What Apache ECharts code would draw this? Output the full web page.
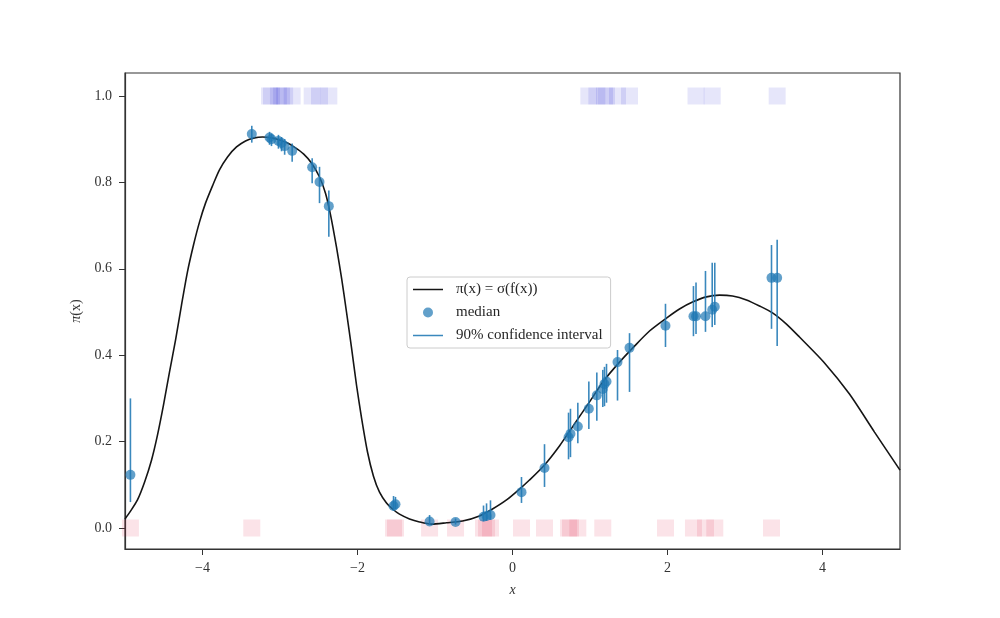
<!DOCTYPE html>
<html>
<head>
<meta charset="utf-8">
<script src="https://cdn.jsdelivr.net/npm/echarts@6/dist/echarts.min.js"></script>
<style>html,body{margin:0;padding:0;background:#fff}#c{width:1000px;height:618px}</style>
</head>
<body>
<div id="c"></div>
<script>
// ---- data ----
const xs = [-4.93, -3.364, -3.135, -3.11, -3.02, -2.98, -2.94, -2.843, -2.585, -2.49, -2.37,
  -1.535, -1.51, -1.07, -0.735, -0.374, -0.335, -0.284, 0.116, 0.413, 0.723, 0.748, 0.843,
  0.985, 1.088, 1.165, 1.187, 1.213, 1.355, 1.51, 1.974, 2.335, 2.368, 2.49, 2.577, 2.61, 3.342, 3.415];
const median = [0.123, 0.912, 0.904, 0.900, 0.896, 0.891, 0.884, 0.873, 0.835, 0.801, 0.745,
  0.051, 0.055, 0.015, 0.014, 0.026, 0.028, 0.030, 0.083, 0.139, 0.210, 0.218, 0.235,
  0.276, 0.307, 0.322, 0.333, 0.339, 0.384, 0.417, 0.468, 0.490, 0.490, 0.490, 0.505, 0.512, 0.579, 0.579];
const ciLow = [0.06, 0.892, 0.887, 0.884, 0.878, 0.872, 0.864, 0.848, 0.798, 0.752, 0.674,
  0.040, 0.043, 0.007, 0.008, 0.016, 0.017, 0.019, 0.058, 0.095, 0.159, 0.164, 0.196,
  0.229, 0.248, 0.280, 0.282, 0.290, 0.295, 0.315, 0.419, 0.444, 0.449, 0.454, 0.465, 0.470, 0.461, 0.421];
const ciHigh = [0.30, 0.931, 0.917, 0.913, 0.910, 0.905, 0.900, 0.890, 0.856, 0.836, 0.781,
  0.074, 0.072, 0.030, 0.022, 0.052, 0.057, 0.064, 0.118, 0.194, 0.267, 0.276, 0.290,
  0.339, 0.360, 0.366, 0.373, 0.380, 0.412, 0.451, 0.519, 0.560, 0.568, 0.595, 0.614, 0.614, 0.655, 0.667];
const labels = [0, 0, 1, 1, 1, 1, 1, 1, 1, 1, 1,
  0, 0, 0, 0, 0, 0, 0, 0, 0, 0, 0, 0,
  1, 1, 0, 1, 1, 1, 1, 0, 0, 1, 0, 1, 0, 0, 1];
const curveX = [-5.0, -4.929, -4.839, -4.748, -4.658, -4.581, -4.503, -4.426, -4.348, -4.271, -4.194, -4.116,
  -4.039, -3.961, -3.871, -3.781, -3.677, -3.561, -3.445, -3.329, -3.226, -3.110, -3.006, -2.903, -2.800,
  -2.697, -2.594, -2.490, -2.413, -2.348, -2.271, -2.206, -2.142, -2.077, -2.013, -1.948, -1.871, -1.794,
  -1.716, -1.626, -1.548, -1.458, -1.329, -1.2, -1.045, -0.852, -0.645, -0.426, -0.258, -0.077, 0.090,
  0.219, 0.413, 0.606, 0.8, 0.994, 1.187, 1.381, 1.574, 1.768, 1.987, 2.155, 2.323, 2.503, 2.671, 2.839,
  3.019, 3.187, 3.355, 3.535, 3.703, 4.026, 4.348, 4.671, 5.0];
const curveY = [0.021, 0.039, 0.065, 0.106, 0.157, 0.215, 0.285, 0.361, 0.435, 0.516, 0.593, 0.655,
  0.708, 0.752, 0.792, 0.829, 0.859, 0.882, 0.896, 0.903, 0.905, 0.903, 0.898, 0.891, 0.880,
  0.866, 0.845, 0.8125, 0.775, 0.725, 0.650, 0.579, 0.500, 0.417, 0.331, 0.255, 0.176, 0.120,
  0.083, 0.058, 0.044, 0.032, 0.021, 0.014, 0.009, 0.012, 0.016, 0.028, 0.044, 0.065, 0.090,
  0.111, 0.146, 0.190, 0.241, 0.292, 0.343, 0.384, 0.421, 0.456, 0.486, 0.507, 0.523, 0.535, 0.539, 0.537,
  0.528, 0.514, 0.498, 0.472, 0.442, 0.382, 0.310, 0.222, 0.134];
const xTicks = [-4, -2, 0, 2, 4];
const yTicks = [0.0, 0.2, 0.4, 0.6, 0.8, 1.0];
const curveName = 'π(x) = σ(f(x))';
const medianName = 'median';
const ciName = '90% confidence interval';

// ---- chart ----
const FONT = 'Liberation Serif';
const AX = '#333333';
const BLUE = 'rgba(31,119,180,0.88)';
const chart = echarts.init(document.getElementById('c'), null, {renderer: 'canvas'});

const rug0 = [], rug1 = [];
xs.forEach((x, i) => { (labels[i] === 1 ? rug1 : rug0).push([x, labels[i]]); });

const option = {
  animation: false,
  backgroundColor: '#ffffff',
  grid: {left: 125, right: 100, top: 73, bottom: 69, show: true, borderColor: AX, borderWidth: 1.2, backgroundColor: 'transparent'},
  xAxis: {
    type: 'value', min: -5, max: 5,
    name: 'x', nameLocation: 'middle', nameGap: 34,
    nameTextStyle: {fontFamily: FONT, fontStyle: 'italic', fontSize: 14, color: AX},
    axisLine: {show: true, onZero: false, lineStyle: {color: AX, width: 1.2}},
    axisTick: {show: true, customValues: xTicks, length: 6, lineStyle: {color: AX, width: 1}},
    axisLabel: {customValues: xTicks, margin: 12, fontFamily: FONT, fontSize: 14, color: AX,
      formatter: v => v < 0 ? '\u2212' + Math.abs(v) : String(v)},
    splitLine: {show: false}
  },
  yAxis: {
    type: 'value', min: -0.0486, max: 1.0532,
    name: '{i|π}(x)', nameLocation: 'middle', nameGap: 41,
    nameTextStyle: {fontFamily: FONT, fontSize: 14, color: AX, rich: {i: {fontFamily: FONT, fontStyle: 'italic', fontSize: 14, color: AX}}},
    axisLine: {show: true, onZero: false, lineStyle: {color: AX, width: 1.2}},
    axisTick: {show: true, customValues: yTicks, length: 6, lineStyle: {color: AX, width: 1}},
    axisLabel: {customValues: yTicks, margin: 13, fontFamily: FONT, fontSize: 14, color: AX,
      formatter: v => v.toFixed(1)},
    splitLine: {show: false}
  },
  legend: {
    left: 407, top: 277, orient: 'vertical',
    backgroundColor: 'rgba(255,255,255,0.85)', borderColor: '#cccccc', borderWidth: 1, borderRadius: 3,
    padding: [5, 8, 5, 6], itemWidth: 30, itemHeight: 10, itemGap: 8, symbolKeepAspect: true,
    selectedMode: false,
    textStyle: {fontFamily: FONT, fontSize: 15, color: '#262626', lineHeight: 14, padding: [0, 0, 0, 8]},
    data: [
      {name: curveName, icon: 'path://M0,0H100V5H0Z'},
      {name: medianName, icon: 'circle'},
      {name: ciName, icon: 'path://M0,0H100V5H0Z'}
    ]
  },
  series: [
    {type: 'scatter', name: 'rug0', data: rug0, symbol: 'rect', symbolSize: 17, z: 1,
      itemStyle: {color: 'rgba(220,20,60,0.15)'}, silent: true},
    {type: 'scatter', name: 'rug1', data: rug1, symbol: 'rect', symbolSize: 17, z: 1,
      itemStyle: {color: 'rgba(0,0,205,0.12)'}, silent: true},
    {type: 'line', name: curveName, data: curveX.map((x, i) => [x, curveY[i]]), symbol: 'none',
      smooth: 0.25, z: 2, color: '#151515',
      lineStyle: {color: '#151515', width: 1.6}, itemStyle: {color: '#151515'}},
    {type: 'custom', name: ciName, z: 3,
      data: xs.map((x, i) => [x, ciLow[i], ciHigh[i]]),
      encode: {x: 0, y: [1, 2]},
      itemStyle: {color: BLUE},
      renderItem: (params, api) => {
        const p1 = api.coord([api.value(0), api.value(1)]);
        const p2 = api.coord([api.value(0), api.value(2)]);
        return {type: 'line', shape: {x1: p1[0], y1: p1[1], x2: p2[0], y2: p2[1]},
          style: {stroke: BLUE, lineWidth: 1.6}};
      }},
    {type: 'scatter', name: medianName, z: 4, data: xs.map((x, i) => [x, median[i]]),
      symbol: 'circle', symbolSize: 10, itemStyle: {color: BLUE}}
  ]
};
chart.setOption(option);
</script>
</body>
</html>
